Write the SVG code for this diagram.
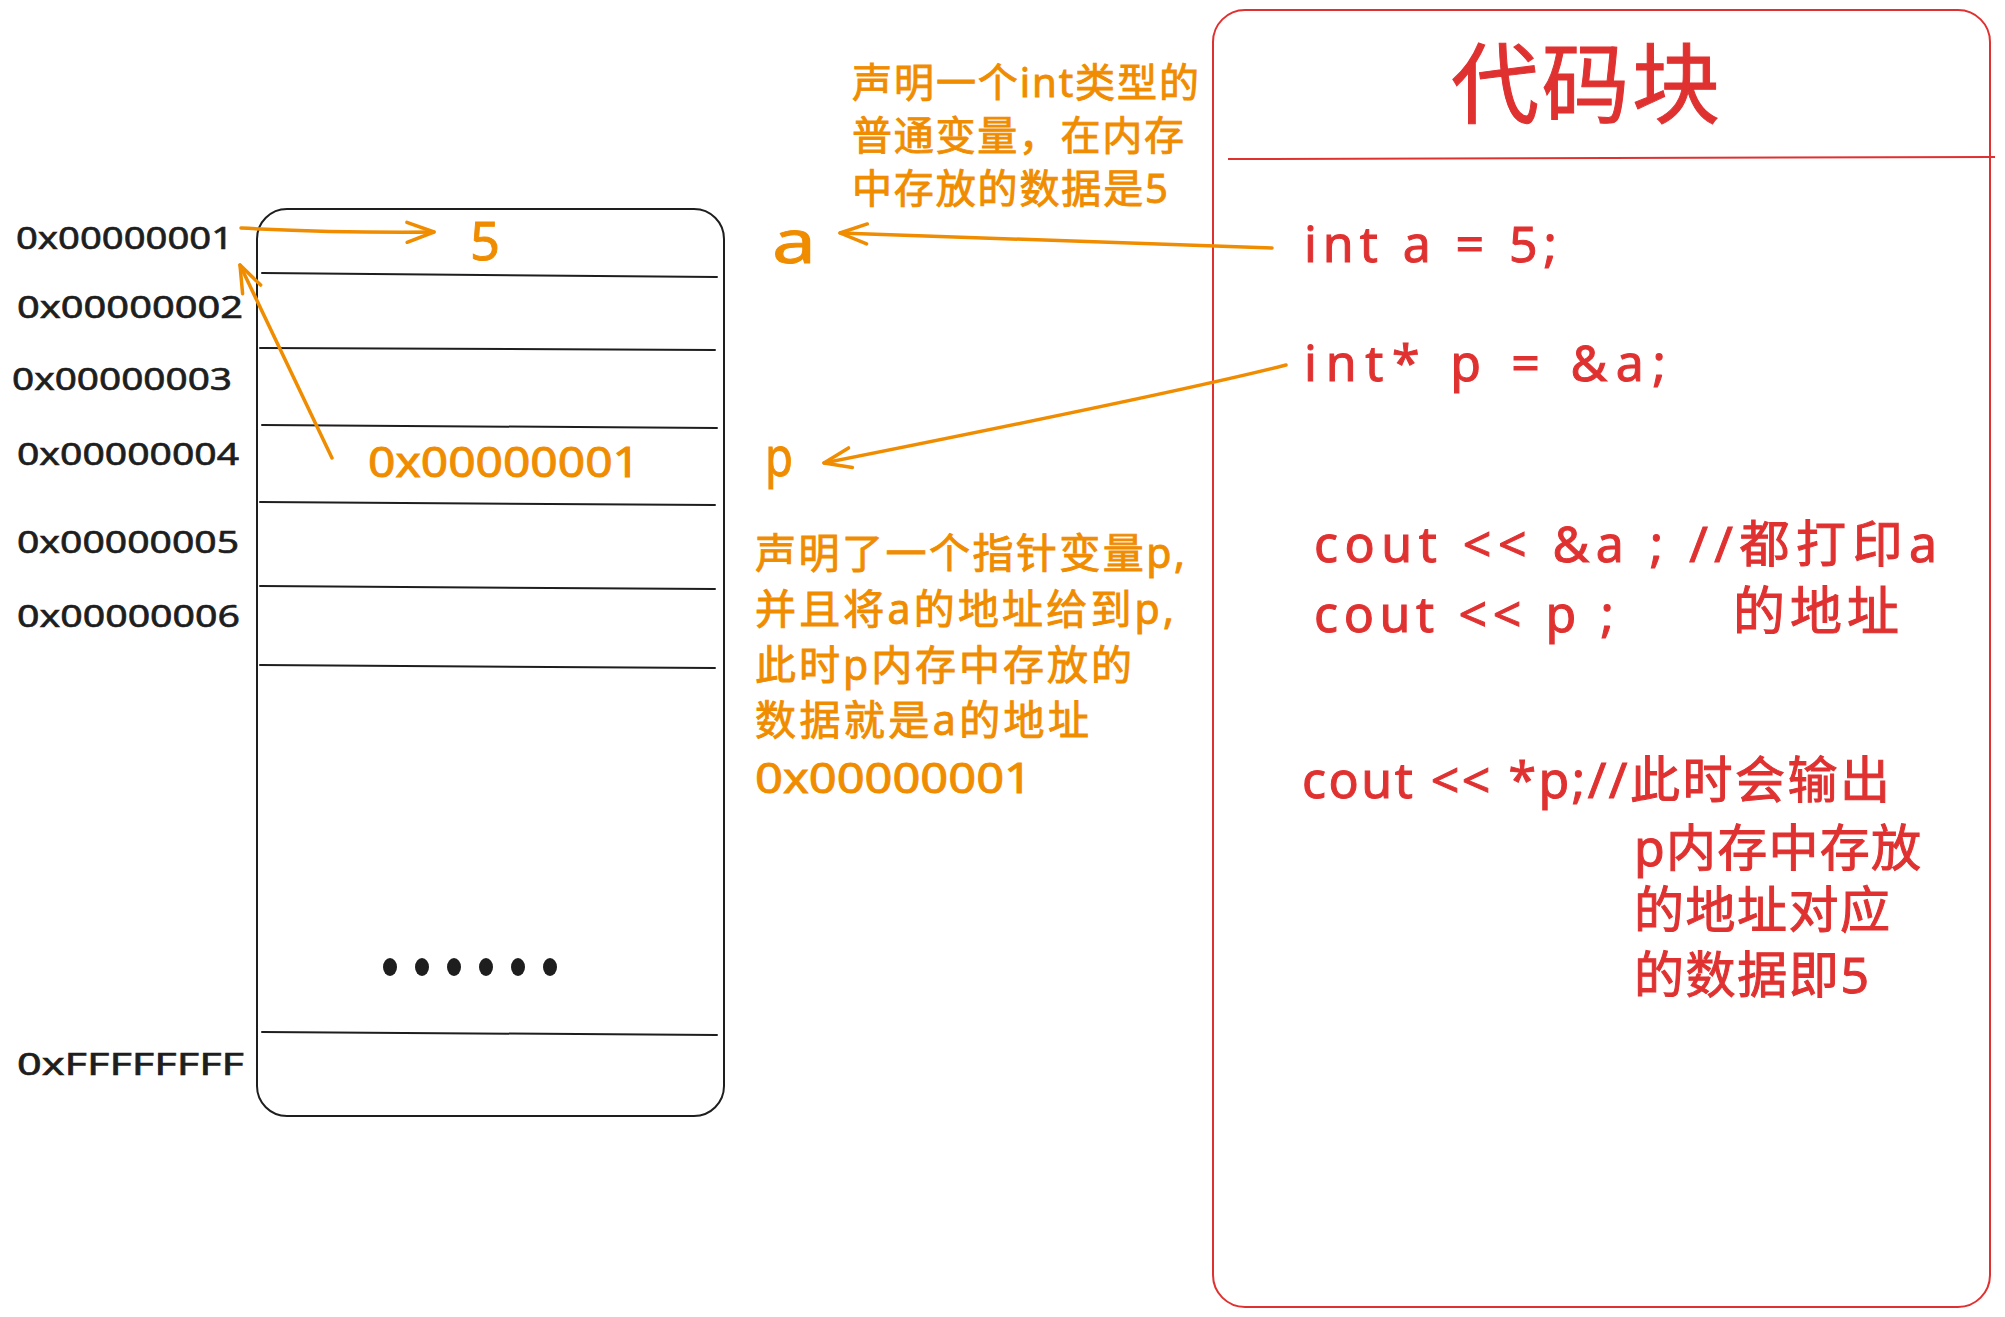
<svg xmlns="http://www.w3.org/2000/svg" width="2005" height="1317" viewBox="0 0 2005 1317">
<style>
text{font-family:"Noto Sans","Noto Sans CJK SC",sans-serif;}
.k{fill:#1e1e1e;font-size:30px;stroke:#1e1e1e;stroke-width:0.6;}
.o{fill:#f08c00;stroke:#f08c00;stroke-width:0.9;}
.r{fill:#e03131;stroke:#e03131;stroke-width:1;}
.box{fill:none;stroke:#1e1e1e;stroke-width:2;}
.row{stroke:#1e1e1e;stroke-width:2;fill:none;stroke-linecap:round;}
.rbox{fill:none;stroke:#e03131;stroke-width:2;}
.conn{fill:none;stroke:#f08c00;stroke-width:3.5;stroke-linecap:round;marker-end:url(#ah);}
</style>
<defs>
<marker id="ah" markerUnits="userSpaceOnUse" viewBox="-32 -16 36 32" refX="0" refY="0" markerWidth="36" markerHeight="32" orient="auto">
<path d="M-27,-10 L0,0 L-27,10" fill="none" stroke="#f08c00" stroke-width="3.5" stroke-linecap="round" stroke-linejoin="round"/>
</marker>
</defs>
<rect width="2005" height="1317" fill="#ffffff"/>

<g id="memory">
<rect class="box" x="257" y="209" width="467" height="907" rx="30"/>
<path class="row" d="M262,273 L717,277"/>
<path class="row" d="M260,348 L715,350"/>
<path class="row" d="M262,425 L717,428"/>
<path class="row" d="M260,502 L715,505"/>
<path class="row" d="M260,586 L715,589"/>
<path class="row" d="M260,665 L715,668"/>
<path class="row" d="M262,1032 L717,1035"/>
<g fill="#1e1e1e">
<ellipse cx="390" cy="967" rx="7" ry="9"/>
<ellipse cx="422" cy="967" rx="7" ry="9"/>
<ellipse cx="454" cy="967" rx="7" ry="9"/>
<ellipse cx="486" cy="967" rx="7" ry="9"/>
<ellipse cx="518" cy="967" rx="7" ry="9"/>
<ellipse cx="550" cy="967" rx="7" ry="9"/>
</g>
</g>

<g id="addr-labels">
<text class="k" x="16" y="249" textLength="217" lengthAdjust="spacingAndGlyphs">0x00000001</text>
<text class="k" x="17" y="318" textLength="226" lengthAdjust="spacingAndGlyphs">0x00000002</text>
<text class="k" x="12" y="390" textLength="220" lengthAdjust="spacingAndGlyphs">0x00000003</text>
<text class="k" x="17" y="465" textLength="222" lengthAdjust="spacingAndGlyphs">0x00000004</text>
<text class="k" x="17" y="553" textLength="222" lengthAdjust="spacingAndGlyphs">0x00000005</text>
<text class="k" x="17" y="627" textLength="223" lengthAdjust="spacingAndGlyphs">0x00000006</text>
<text class="k" x="17" y="1075" textLength="227" lengthAdjust="spacingAndGlyphs">0xFFFFFFFF</text>
</g>

<g id="cell-values">
<text class="o" x="470" y="260" font-size="52" textLength="30" lengthAdjust="spacingAndGlyphs" stroke-width="2">5</text>
<text class="o" x="368" y="477" font-size="42" textLength="272" lengthAdjust="spacingAndGlyphs">0x00000001</text>
</g>

<g id="var-a">
<text class="o" x="772" y="263" font-size="60" textLength="44" lengthAdjust="spacingAndGlyphs" stroke-width="2.5">a</text>
</g>
<g id="var-p">
<text class="o" x="765" y="476" font-size="54" textLength="28" lengthAdjust="spacingAndGlyphs" stroke-width="1.5">p</text>
</g>

<g id="note-a" font-size="40">
<text class="o" x="852" y="97" textLength="347" lengthAdjust="spacing">声明一个int类型的</text>
<text class="o" x="852" y="150" textLength="332" lengthAdjust="spacing">普通变量，在内存</text>
<text class="o" x="852" y="203" textLength="316" lengthAdjust="spacing">中存放的数据是5</text>
</g>

<g id="note-p" font-size="41">
<text class="o" x="755" y="568" textLength="430" lengthAdjust="spacing">声明了一个指针变量p,</text>
<text class="o" x="755" y="624" textLength="419" lengthAdjust="spacing">并且将a的地址给到p,</text>
<text class="o" x="755" y="680" textLength="377" lengthAdjust="spacing">此时p内存中存放的</text>
<text class="o" x="755" y="735" textLength="334" lengthAdjust="spacing">数据就是a的地址</text>
<text class="o" x="755" y="793" font-size="42" textLength="277" lengthAdjust="spacingAndGlyphs">0x00000001</text>
</g>

<g id="code-block">
<rect class="rbox" x="1213" y="10" width="777" height="1297" rx="32"/>
<path d="M1228,159 L1995,157" stroke="#e03131" stroke-width="2" fill="none"/>
<text class="r" x="1451" y="116" font-size="88" textLength="269" lengthAdjust="spacing" stroke-width="2">代码块</text>
<text class="r" x="1304" y="262" font-size="50" textLength="253" lengthAdjust="spacing">int a = 5;</text>
<text class="r" x="1304" y="381" font-size="50" textLength="362" lengthAdjust="spacing">int* p = &amp;a;</text>
<text class="r" x="1314" y="562" font-size="50" textLength="623" lengthAdjust="spacing">cout &lt;&lt; &amp;a ; //都打印a</text>
<text class="r" x="1314" y="632" font-size="50" textLength="300" lengthAdjust="spacing">cout &lt;&lt; p ;</text>
<text class="r" x="1733" y="630" font-size="52" textLength="166" lengthAdjust="spacing">的地址</text>
<text class="r" x="1302" y="798" font-size="50" textLength="588" lengthAdjust="spacing">cout &lt;&lt; *p;//此时会输出</text>
<text class="r" x="1634" y="866" font-size="50" textLength="287" lengthAdjust="spacing">p内存中存放</text>
<text class="r" x="1634" y="928" font-size="50" textLength="256" lengthAdjust="spacing">的地址对应</text>
<text class="r" x="1634" y="993" font-size="50" textLength="235" lengthAdjust="spacing">的数据即5</text>
</g>

<g id="connectors">
<path class="conn" d="M241,228 Q340,233 434,232"/>
<path class="conn" d="M332,458 L240,265"/>
<path class="conn" d="M1272,248 L840,233"/>
<path class="conn" d="M1286,365 Q1180,392 824,463"/>
</g>
</svg>
